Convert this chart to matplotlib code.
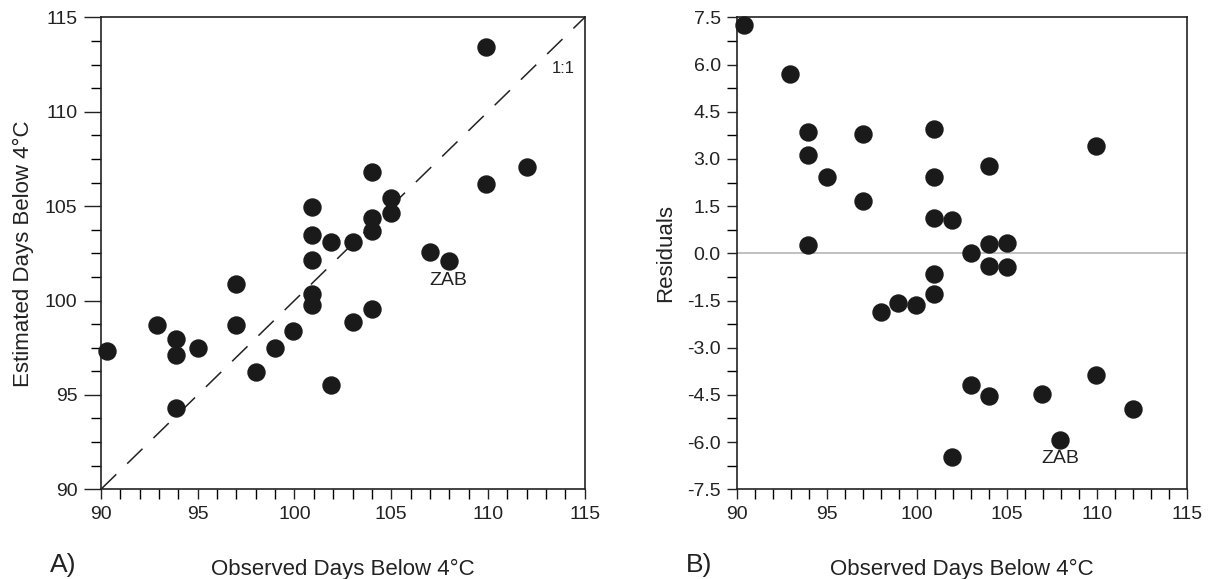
import matplotlib
matplotlib.use("Agg")
import numpy as np
from matplotlib import pyplot as plt
from matplotlib.ticker import MultipleLocator

plt.rcParams['font.family'] = ['Liberation Sans', 'DejaVu Sans']

# panel A: observed vs estimated days below 4°C
obs_a = [90.3, 92.9, 93.9, 93.9, 93.9, 95.0, 97.0, 97.0, 98.0, 99.0, 99.9,
         100.9, 100.9, 100.9, 100.9, 100.9, 101.9, 101.9, 103.0, 103.0,
         104.0, 104.0, 104.0, 104.0, 105.0, 105.0, 107.0, 108.0, 109.9, 109.9, 112.0]
est_a = [97.35, 98.72, 97.98, 97.12, 94.29, 97.47, 100.86, 98.72, 96.22, 97.47, 98.40,
         104.94, 103.47, 102.17, 100.37, 99.77, 103.08, 95.54, 103.08, 98.87,
         106.81, 104.37, 103.67, 99.54, 105.41, 104.63, 102.56, 102.11, 113.44, 106.15, 107.08]

# panel B: observed vs residuals
obs_b = [90.35, 92.94, 93.92, 93.92, 93.92, 94.98, 96.97, 96.97, 97.97, 98.96, 99.94,
         100.93, 100.93, 100.93, 100.93, 100.93, 101.93, 101.93, 102.99, 102.99,
         103.99, 103.99, 103.99, 103.99, 104.99, 104.99, 106.96, 107.96, 109.95, 109.95, 112.01]
resid_b = [7.26, 5.70, 3.87, 3.11, 0.26, 2.44, 3.79, 1.65, -1.85, -1.57, -1.65,
           3.95, 2.44, 1.12, -0.67, -1.30, 1.06, -6.48, 0.01, -4.19,
           2.76, 0.29, -0.39, -4.54, 0.34, -0.45, -4.47, -5.94, 3.40, -3.87, -4.94]

fig = plt.figure(figsize=(12.31, 5.79), dpi=100)
ax1 = fig.add_axes([0.082, 0.155, 0.393, 0.815])
ax2 = fig.add_axes([0.599, 0.155, 0.365, 0.815])

for ax in (ax1, ax2):
    ax.set_xlim(90, 115)
    ax.xaxis.set_major_locator(MultipleLocator(5))
    ax.xaxis.set_minor_locator(MultipleLocator(1))
    ax.tick_params(which='major', direction='out', length=7, width=1, labelsize=14,
                   colors='#222222', pad=5)
    ax.tick_params(which='minor', direction='out', length=7, width=1)
    for s in ax.spines.values():
        s.set_linewidth(1.2)
        s.set_color('#222222')

ax1.set_ylim(90, 115)
ax1.yaxis.set_major_locator(MultipleLocator(5))
ax1.yaxis.set_minor_locator(MultipleLocator(1.25))
ax1.tick_params(axis='y', which='major', length=12)
ax1.plot([90, 115], [90, 115], color='#222222', lw=1.1, dashes=(14, 10))
ax1.scatter(obs_a, est_a, s=150, color='#1a1a1a', zorder=3, clip_on=False)
ax1.text(113.9, 112.3, '1:1', fontsize=12, ha='center', va='center', color='#222222')
ax1.text(107.95, 101.06, 'ZAB', fontsize=14, ha='center', va='center', color='#222222')
ax1.set_xlabel('Observed Days Below 4°C', fontsize=16, labelpad=26, color='#222222')
ax1.set_ylabel('Estimated Days Below 4°C', fontsize=16, labelpad=8, color='#222222')

ax2.set_ylim(-7.5, 7.5)
ax2.yaxis.set_major_locator(MultipleLocator(1.5))
ax2.yaxis.set_minor_locator(MultipleLocator(0.75))
ax2.yaxis.set_major_formatter(plt.FuncFormatter(lambda v, p: f'{v:.1f}'))
ax2.axhline(0, color='#bbbbbb', lw=1.3, zorder=1)
ax2.scatter(obs_b, resid_b, s=150, color='#1a1a1a', zorder=3, clip_on=False)
ax2.text(107.96, -6.51, 'ZAB', fontsize=14, ha='center', va='center', color='#222222')
ax2.set_xlabel('Observed Days Below 4°C', fontsize=16, labelpad=26, color='#222222')
ax2.set_ylabel('Residuals', fontsize=16, labelpad=8, color='#222222')

fig.text(50 / 1231, 1 - 565 / 579, 'A)', fontsize=19, ha='left', va='center', color='#222222')
fig.text(686 / 1231, 1 - 565 / 579, 'B)', fontsize=19, ha='left', va='center', color='#222222')

fig.savefig('out.png', dpi=100)
